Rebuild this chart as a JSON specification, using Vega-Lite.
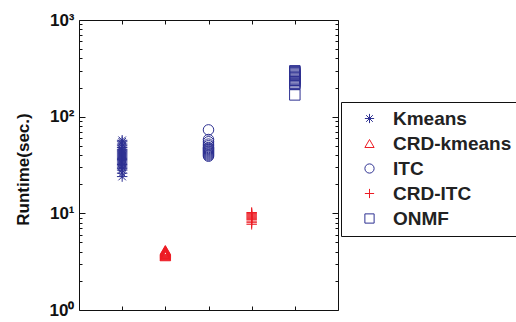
{
  "$schema": "https://vega.github.io/schema/vega-lite/v6.json",
  "autosize": {"type": "none"},
  "padding": {"left": 79, "top": 20, "right": 178, "bottom": 12},
  "width": 259,
  "height": 290,
  "background": "white",
  "config": {
    "view": {"stroke": null},
    "font": "Liberation Sans",
    "axis": {"domainColor": "#111", "tickColor": "#111", "domainWidth": 1, "tickWidth": 1, "grid": false},
    "legend": {
      "orient": "none", "legendX": 262, "legendY": 82,
      "strokeColor": "#111", "strokeWidth": 1, "fillColor": "white",
      "padding": 7,
      "symbolSize": 85, "symbolStrokeWidth": 1, "symbolOffset": 12,
      "labelOffset": 14,
      "labelFont": "Liberation Sans", "labelFontSize": 19, "labelFontWeight": "bold", "labelColor": "#222",
      "rowPadding": 5
    }
  },
  "datasets": {
    "runs": [
      {"method": "Kmeans", "x": 1, "t": 24}, {"method": "Kmeans", "x": 1, "t": 26}, {"method": "Kmeans", "x": 1, "t": 28},
      {"method": "Kmeans", "x": 1, "t": 29}, {"method": "Kmeans", "x": 1, "t": 30}, {"method": "Kmeans", "x": 1, "t": 31},
      {"method": "Kmeans", "x": 1, "t": 32}, {"method": "Kmeans", "x": 1, "t": 33}, {"method": "Kmeans", "x": 1, "t": 34},
      {"method": "Kmeans", "x": 1, "t": 35}, {"method": "Kmeans", "x": 1, "t": 36}, {"method": "Kmeans", "x": 1, "t": 37},
      {"method": "Kmeans", "x": 1, "t": 38}, {"method": "Kmeans", "x": 1, "t": 39}, {"method": "Kmeans", "x": 1, "t": 40},
      {"method": "Kmeans", "x": 1, "t": 41}, {"method": "Kmeans", "x": 1, "t": 42}, {"method": "Kmeans", "x": 1, "t": 43},
      {"method": "Kmeans", "x": 1, "t": 44}, {"method": "Kmeans", "x": 1, "t": 45}, {"method": "Kmeans", "x": 1, "t": 46},
      {"method": "Kmeans", "x": 1, "t": 48}, {"method": "Kmeans", "x": 1, "t": 50}, {"method": "Kmeans", "x": 1, "t": 52},
      {"method": "Kmeans", "x": 1, "t": 55}, {"method": "Kmeans", "x": 1, "t": 57},
      {"method": "CRD-kmeans", "x": 2, "t": 3.6}, {"method": "CRD-kmeans", "x": 2, "t": 3.65}, {"method": "CRD-kmeans", "x": 2, "t": 3.7},
      {"method": "CRD-kmeans", "x": 2, "t": 3.75}, {"method": "CRD-kmeans", "x": 2, "t": 3.8}, {"method": "CRD-kmeans", "x": 2, "t": 3.85},
      {"method": "CRD-kmeans", "x": 2, "t": 3.9}, {"method": "CRD-kmeans", "x": 2, "t": 3.95}, {"method": "CRD-kmeans", "x": 2, "t": 4.0},
      {"method": "CRD-kmeans", "x": 2, "t": 4.05}, {"method": "CRD-kmeans", "x": 2, "t": 4.1}, {"method": "CRD-kmeans", "x": 2, "t": 4.17},
      {"method": "ITC", "x": 3, "t": 73}, {"method": "ITC", "x": 3, "t": 58}, {"method": "ITC", "x": 3, "t": 55},
      {"method": "ITC", "x": 3, "t": 52}, {"method": "ITC", "x": 3, "t": 50}, {"method": "ITC", "x": 3, "t": 48},
      {"method": "ITC", "x": 3, "t": 47}, {"method": "ITC", "x": 3, "t": 46}, {"method": "ITC", "x": 3, "t": 45},
      {"method": "ITC", "x": 3, "t": 44}, {"method": "ITC", "x": 3, "t": 43}, {"method": "ITC", "x": 3, "t": 42},
      {"method": "ITC", "x": 3, "t": 41}, {"method": "ITC", "x": 3, "t": 40}, {"method": "ITC", "x": 3, "t": 39},
      {"method": "CRD-ITC", "x": 4, "t": 7.7}, {"method": "CRD-ITC", "x": 4, "t": 8.0}, {"method": "CRD-ITC", "x": 4, "t": 8.3},
      {"method": "CRD-ITC", "x": 4, "t": 8.6}, {"method": "CRD-ITC", "x": 4, "t": 8.8}, {"method": "CRD-ITC", "x": 4, "t": 9.0},
      {"method": "CRD-ITC", "x": 4, "t": 9.2}, {"method": "CRD-ITC", "x": 4, "t": 9.4}, {"method": "CRD-ITC", "x": 4, "t": 9.6},
      {"method": "CRD-ITC", "x": 4, "t": 9.8}, {"method": "CRD-ITC", "x": 4, "t": 10.0}, {"method": "CRD-ITC", "x": 4, "t": 10.2},
      {"method": "ONMF", "x": 5, "t": 168}, {"method": "ONMF", "x": 5, "t": 216}, {"method": "ONMF", "x": 5, "t": 222},
      {"method": "ONMF", "x": 5, "t": 230}, {"method": "ONMF", "x": 5, "t": 238}, {"method": "ONMF", "x": 5, "t": 245},
      {"method": "ONMF", "x": 5, "t": 252}, {"method": "ONMF", "x": 5, "t": 260}, {"method": "ONMF", "x": 5, "t": 268},
      {"method": "ONMF", "x": 5, "t": 276}, {"method": "ONMF", "x": 5, "t": 284}, {"method": "ONMF", "x": 5, "t": 292},
      {"method": "ONMF", "x": 5, "t": 298}
    ]
  },
  "data": {"name": "runs"},
  "layer": [
    {
      "mark": {"type": "point", "filled": false, "strokeWidth": 1, "size": 110, "opacity": 1},
      "encoding": {
        "x": {
          "field": "x", "type": "quantitative",
          "scale": {"domain": [0, 6], "nice": false, "zero": false},
          "axis": {"orient": "bottom", "values": [1, 2, 3, 4, 5], "labels": false, "title": null, "tickSize": -4}
        },
        "y": {
          "field": "t", "type": "quantitative",
          "scale": {"type": "log", "domain": [1, 1000], "nice": false},
          "axis": {
            "orient": "left",
            "values": [1, 2, 3, 4, 5, 6, 7, 8, 9, 10, 20, 30, 40, 50, 60, 70, 80, 90, 100, 200, 300, 400, 500, 600, 700, 800, 900, 1000],
            "tickSize": {"condition": {"test": "datum.value == 1 || datum.value == 10 || datum.value == 100 || datum.value == 1000", "value": -6}, "value": -3},
            "labelExpr": "datum.value == 1 ? '10⁰' : datum.value == 10 ? '10¹' : datum.value == 100 ? '10²' : datum.value == 1000 ? '10³' : ''",
            "labelOverlap": false,
            "labelBound": false,
            "labelFont": "Liberation Sans",
            "labelFontSize": 17,
            "labelFontWeight": "bold",
            "labelColor": "#111",
            "labelPadding": 11,
            "title": "Runtime(sec.)",
            "titleFont": "Liberation Sans",
            "titleFontSize": 17,
            "titleFontWeight": "bold",
            "titleColor": "#111",
            "titleAngle": -90,
            "titleBaseline": "middle",
            "titleAlign": "center",
            "titleX": -56,
            "titleY": 149
          }
        },
        "shape": {
          "field": "method", "type": "nominal",
          "scale": {
            "domain": ["Kmeans", "CRD-kmeans", "ITC", "CRD-ITC", "ONMF"],
            "range": ["M-1,0L1,0M0,-1L0,1M-0.72,-0.72L0.72,0.72M-0.72,0.72L0.72,-0.72", "triangle-up", "circle", "M-1,0L1,0M0,-1L0,1", "square"]
          },
          "legend": {"title": null}
        },
        "color": {
          "field": "method", "type": "nominal",
          "scale": {
            "domain": ["Kmeans", "CRD-kmeans", "ITC", "CRD-ITC", "ONMF"],
            "range": ["#2E3192", "#ED1C24", "#2E3192", "#ED1C24", "#2E3192"]
          },
          "legend": {"title": null}
        }
      }
    },
    {
      "mark": {"type": "point", "opacity": 0},
      "encoding": {
        "x": {
          "field": "x", "type": "quantitative",
          "axis": {"orient": "top", "values": [1, 2, 3, 4, 5], "labels": false, "title": null, "tickSize": -4}
        },
        "y": {
          "field": "t", "type": "quantitative",
          "axis": {
            "orient": "right",
            "values": [1, 2, 3, 4, 5, 6, 7, 8, 9, 10, 20, 30, 40, 50, 60, 70, 80, 90, 100, 200, 300, 400, 500, 600, 700, 800, 900, 1000],
            "tickSize": {"condition": {"test": "datum.value == 1 || datum.value == 10 || datum.value == 100 || datum.value == 1000", "value": -6}, "value": -3},
            "labels": false, "title": null
          }
        }
      }
    }
  ],
  "resolve": {"axis": {"x": "independent", "y": "independent"}}
}
